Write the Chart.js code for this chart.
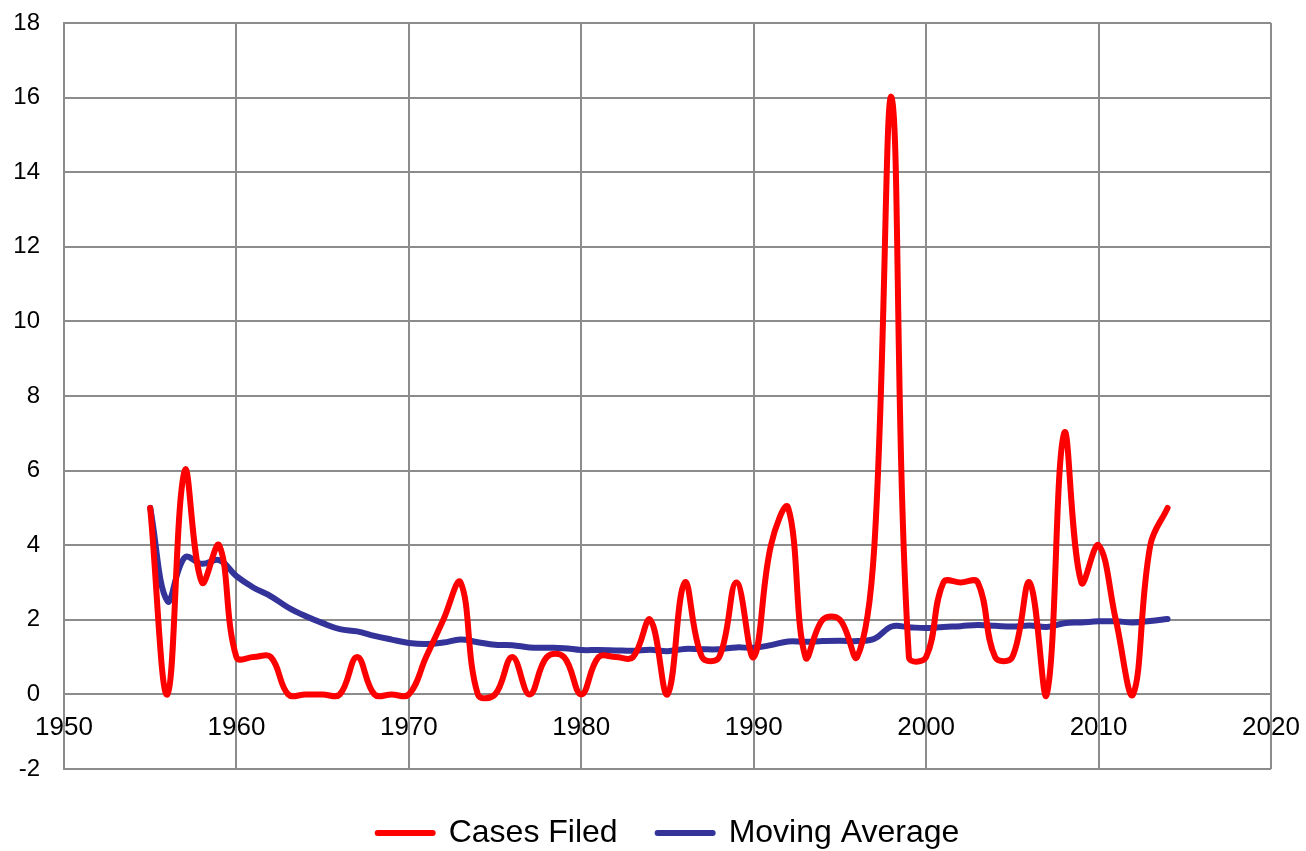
<!DOCTYPE html>
<html>
<head>
<meta charset="utf-8">
<script src="https://cdn.jsdelivr.net/npm/chart.js@4"></script>
<style>
    html, body { margin: 0; padding: 0; background: #fff; }
    #wrap { width: 1306px; height: 851px; }
</style>
</head>
<body>
<div id="wrap"><canvas id="chart"></canvas></div>
<script>
const years = [
    1955, 1956, 1957, 1958, 1959, 1960, 1961, 1962, 1963, 1964,
    1965, 1966, 1967, 1968, 1969, 1970, 1971, 1972, 1973, 1974,
    1975, 1976, 1977, 1978, 1979, 1980, 1981, 1982, 1983, 1984,
    1985, 1986, 1987, 1988, 1989, 1990, 1991, 1992, 1993, 1994,
    1995, 1996, 1997, 1998, 1999, 2000, 2001, 2002, 2003, 2004,
    2005, 2006, 2007, 2008, 2009, 2010, 2011, 2012, 2013, 2014
]
const casesFiled = [
    5, 0, 6, 3, 4, 1, 1, 1, 0, 0,
    0, 0, 1, 0, 0, 0, 1, 2, 3, 0,
    0, 1, 0, 1, 1, 0, 1, 1, 1, 2,
    0, 3, 1, 1, 3, 1, 4, 5, 1, 2,
    2, 1, 4, 16, 1, 1, 3, 3, 3, 1,
    1, 3, 0, 7, 3, 4, 2, 0, 4, 5
]
const movingAverage = [
    5.00, 2.50, 3.67, 3.50, 3.60, 3.17, 2.86, 2.63, 2.33, 2.10,
    1.91, 1.75, 1.69, 1.57, 1.47, 1.38, 1.35, 1.39, 1.47, 1.40,
    1.33, 1.32, 1.26, 1.25, 1.24, 1.19, 1.19, 1.18, 1.17, 1.20,
    1.16, 1.22, 1.21, 1.21, 1.26, 1.25, 1.32, 1.42, 1.41, 1.43,
    1.44, 1.43, 1.49, 1.82, 1.80, 1.78, 1.81, 1.83, 1.86, 1.84,
    1.82, 1.85, 1.81, 1.91, 1.93, 1.96, 1.96, 1.93, 1.97, 2.02
]
const xTicks = { min: 1950, max: 2020, step: 10 }
const yTicks = { min: -2, max: 18, step: 2 }

const gridColor = '#8c8c8c'
const font = 'Liberation Sans, Arial, sans-serif'

function points(values) {
    return years.map((yr, i) => ({ x: yr, y: values[i] }))
}

// move the legend a bit: reference sits lower and centred on the plot, not the canvas
const legendShift = {
    id: 'legendShift',
    afterLayout(chart) {
        const lg = chart.legend
        lg.top += 8
        lg.bottom += 8
        lg.left += 33
        lg.right += 33
    }
}

new Chart(document.getElementById('chart'), {
    type: 'line',
    data: {
        datasets: [
            {
                label: 'Cases Filed',
                data: points(casesFiled),
                borderColor: '#ff0000',
                backgroundColor: '#ff0000',
                borderWidth: 6,
                tension: 0.4,
                pointRadius: 0,
                borderCapStyle: 'round'
            },
            {
                label: 'Moving Average',
                data: points(movingAverage),
                borderColor: '#333399',
                backgroundColor: '#333399',
                borderWidth: 6,
                tension: 0.4,
                pointRadius: 0,
                borderCapStyle: 'round'
            }
        ]
    },
    plugins: [legendShift],
    options: {
        responsive: true,
        maintainAspectRatio: false,
        animation: false,
        layout: { padding: { left: 0, right: 35, top: 23, bottom: 0 } },
        scales: {
            x: {
                type: 'linear',
                position: { y: 0 },
                min: xTicks.min,
                max: xTicks.max,
                afterFit: scale => {
                    scale.height = 0
                    scale.paddingLeft = 0
                    scale.paddingRight = 0
                },
                ticks: {
                    stepSize: xTicks.step,
                    color: '#000',
                    font: { family: font, size: 26 },
                    padding: 18,
                    maxRotation: 0,
                    callback: v => String(v)
                },
                grid: { color: gridColor, lineWidth: 2, drawTicks: false },
                border: { color: gridColor, width: 2 }
            },
            y: {
                min: yTicks.min,
                max: yTicks.max,
                afterFit: scale => {
                    scale.width = 64
                    scale.paddingTop = 0
                    scale.paddingBottom = 0
                },
                ticks: {
                    stepSize: yTicks.step,
                    color: '#000',
                    font: { family: font, size: 24 },
                    padding: 24
                },
                grid: { color: gridColor, lineWidth: 2, drawTicks: false },
                border: { color: gridColor, width: 2 }
            }
        },
        plugins: {
            tooltip: { enabled: false },
            legend: {
                position: 'bottom',
                labels: {
                    usePointStyle: true,
                    pointStyle: 'line',
                    pointStyleWidth: 55,
                    padding: 40,
                    color: '#000',
                    font: { family: font, size: 32 },
                    generateLabels: chart => chart.data.datasets.map((ds, i) => ({
                        text: ds.label,
                        strokeStyle: ds.borderColor,
                        fillStyle: ds.borderColor,
                        lineWidth: 6,
                        lineCap: 'round',
                        pointStyle: 'line',
                        datasetIndex: i
                    }))
                }
            }
        }
    }
})
</script>
</body>
</html>
